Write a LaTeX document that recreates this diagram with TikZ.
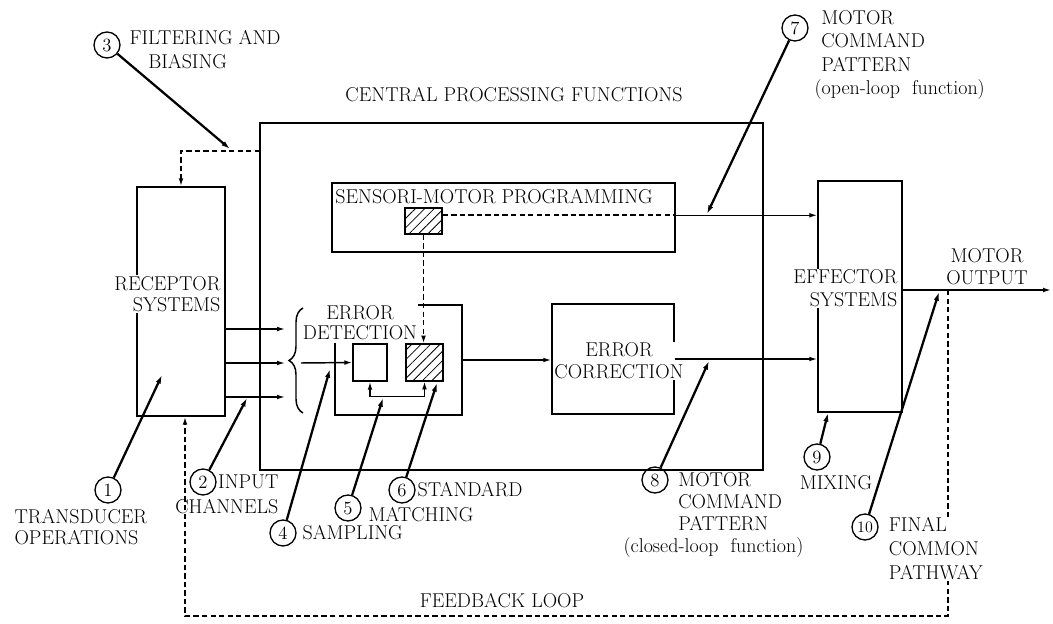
\documentclass[tikz,border=0pt]{standalone}
\usetikzlibrary{arrows.meta,fit,patterns.meta,decorations.pathreplacing,calc}
\begin{document}
\begin{tikzpicture}[x=0.75pt,y=-0.75pt,
  box/.style={draw, line width=1.1pt, inner sep=0pt},
  hatch/.style={box, pattern={Lines[angle=45,distance=5pt,line width=0.6pt]}},
  txt/.style={font=\fontsize{15}{16.5}\selectfont, inner sep=1pt},
  wtxt/.style={txt, fill=white},
  num/.style={draw, circle, line width=1pt, minimum size=19.5pt, inner sep=0pt, font=\fontsize{14}{14}\selectfont},
  conn/.style={line width=1.1pt, -{Latex[length=6pt,width=3.6pt]}},
  lead/.style={line width=1.7pt, -{Latex[length=6.5pt,width=4pt]}},
  dsh/.style={line width=1.3pt, dash pattern=on 4pt off 2.4pt},
  dsharr/.style={dsh, -{Latex[length=6pt,width=3.6pt]}},
]
\useasboundingbox (0,0) rectangle (1053,624);

% boxes
\node[box, fit={(260,123) (763,470)}] (cpf) {};
\node[box, fit={(137,187) (225,416)}] (rec) {};
\node[box, fit={(332,183) (675,252)}] (smp) {};
\node[box, fit={(335,305) (462,415)}] (ed) {};
\node[box, fit={(353,344) (387,381)}] (cmp) {};
\node[hatch, fit={(406,344) (443,381)}] (std) {};
\node[hatch, fit={(405,208) (442,234)}] (sms) {};
\node[box, fit={(552,304) (674,414)}] (ecr) {};
\node[box, fit={(818,181) (902,412)}] (eff) {};

% texts inside
\node[txt] (title) at (514,95) {CENTRAL PROCESSING FUNCTIONS};
\node[wtxt, align=right, anchor=east, font=\fontsize{15}{15.75}\selectfont] (rectxt) at (222,294) {RECEPTOR\\SYSTEMS};
\node[wtxt, inner xsep=0.5pt, inner ysep=2pt] (smptxt) at (494,197) {SENSORI-MOTOR PROGRAMMING};
\node[wtxt, align=center, inner xsep=0.5pt, inner ysep=2pt, font=\fontsize{15}{15}\selectfont] (edtxt) at (360,323) {ERROR\\DETECTION};
\node[wtxt, align=center, inner sep=0.5pt] (ecrtxt) at (619,361) {ERROR\\CORRECTION};
\draw[line width=1.1pt] (ecr.north west) -- (ecr.south west);
\node[wtxt, align=right, anchor=east, font=\fontsize{15}{17}\selectfont] (efftxt) at (899,288.5) {EFFECTOR\\SYSTEMS};

% input channels
\coordinate (in1) at (285,329);
\coordinate (in2) at (285,363);
\coordinate (in3) at (285,397);
\draw[conn] (rec.east |- in1) -- (in1);
\draw[conn] (rec.east |- in2) -- (in2);
\draw[conn] (rec.east |- in3) -- (in3);
\coordinate (brb) at (303,413);
\coordinate (brt) at (303,308);
\draw[line width=1.1pt, decorate, decoration={brace, amplitude=10.5pt}] (brb) -- (brt);
\coordinate (bro) at (301,363);
\draw[conn] (bro) -- (cmp.west);
\draw[{Latex[length=6pt,width=3.6pt]}-{Latex[length=6pt,width=3.6pt]}, line width=1.1pt] (cmp.south) -- ++(0,15) -| (std.south);
\draw[dsharr] (sms.south) -- (sms.south |- std.north);

% main flow
\draw[conn] (ed.east) -- (ecr.west |- ed.east);
\draw[conn] (ecr.east) -- (eff.west |- ecr.east);
\coordinate (smo) at ($(sms.north east)+(0,8)$);
\draw[dsh] (smo) -- (smo -| smp.east);
\draw[conn] (smo -| smp.east) -- (smo -| eff.west);
\coordinate (mo) at (1051,290);
\draw[conn] (eff.east |- mo) -- (mo);

% feedback and filtering
\coordinate (fbt) at (948,290);
\coordinate (fbc) at (185,616);
\draw[dsharr] (fbt) |- (fbc) -- (fbc |- rec.south);
\coordinate (fl) at (260,151);
\draw[dsharr] (fl) -| (rec.north);

% numbered leaders
\node[num] (n1) at (108,490) {1};
\node[num] (n2) at (203,482) {2};
\node[num] (n3) at (107,45) {3};
\node[num] (n4) at (283,533) {4};
\node[num] (n5) at (348,508) {5};
\node[num] (n6) at (402,490) {6};
\node[num] (n7) at (795,28) {7};
\node[num] (n8) at (655,480) {8};
\node[num] (n9) at (817,457) {9};
\node[num, font=\fontsize{12}{12}\selectfont] (n10) at (865,527) {10};
\coordinate (t1) at (162,375);
\coordinate (t2) at (247,398);
\coordinate (t3) at (230,149);
\coordinate (t4) at (330,369);
\coordinate (t5) at (383,398);
\coordinate (t6) at (437,383);
\coordinate (t7) at (707,214);
\coordinate (t8) at (709,361);
\coordinate (t9) at (828,413);
\coordinate (t10) at (939,292);
\foreach \i in {1,...,10} { \draw[lead] (n\i) -- (t\i); }

% outside labels
\node[txt, align=left, anchor=west, font=\fontsize{15}{18}\selectfont] (l3) at (128,50) {FILTERING AND\\\hspace*{14pt}BIASING};
\node[txt, align=left, anchor=west, font=\fontsize{15}{17.5}\selectfont] (l7) at (813,55) {\hspace*{5pt}MOTOR\\\hspace*{5pt}COMMAND\\\hspace*{5pt}PATTERN\\(open-loop\ \ function)};
\node[txt, align=left, anchor=west, font=\fontsize{15}{15.75}\selectfont] (l1) at (13,527.5) {TRANSDUCER\\OPERATIONS};
\node[txt, align=right, anchor=east, font=\fontsize{15}{18.75}\selectfont] (l2) at (280,494.5) {INPUT\\CHANNELS};
\node[txt, anchor=west] (l4) at (301,533) {SAMPLING};
\node[txt, anchor=west] (l5) at (367,515) {MATCHING};
\node[txt, anchor=west] (l6) at (416,490) {STANDARD};
\node[txt, align=left, anchor=west, font=\fontsize{15}{16.3}\selectfont] (l8) at (622,515) {\hspace*{41pt}MOTOR\\\hspace*{41pt}COMMAND\\\hspace*{41pt}PATTERN\\(closed-loop\ \ function)};
\node[txt] (l9) at (836,483) {MIXING};
\node[wtxt, align=left, anchor=west, inner sep=0.5pt, font=\fontsize{15}{18}\selectfont] (l10) at (888,549) {FINAL\\COMMON\\PATHWAY};
\node[txt] (fbl) at (502,601) {FEEDBACK LOOP};
\node[txt, align=center] (motl) at (987,267) {MOTOR\\OUTPUT};
\end{tikzpicture}
\end{document}
